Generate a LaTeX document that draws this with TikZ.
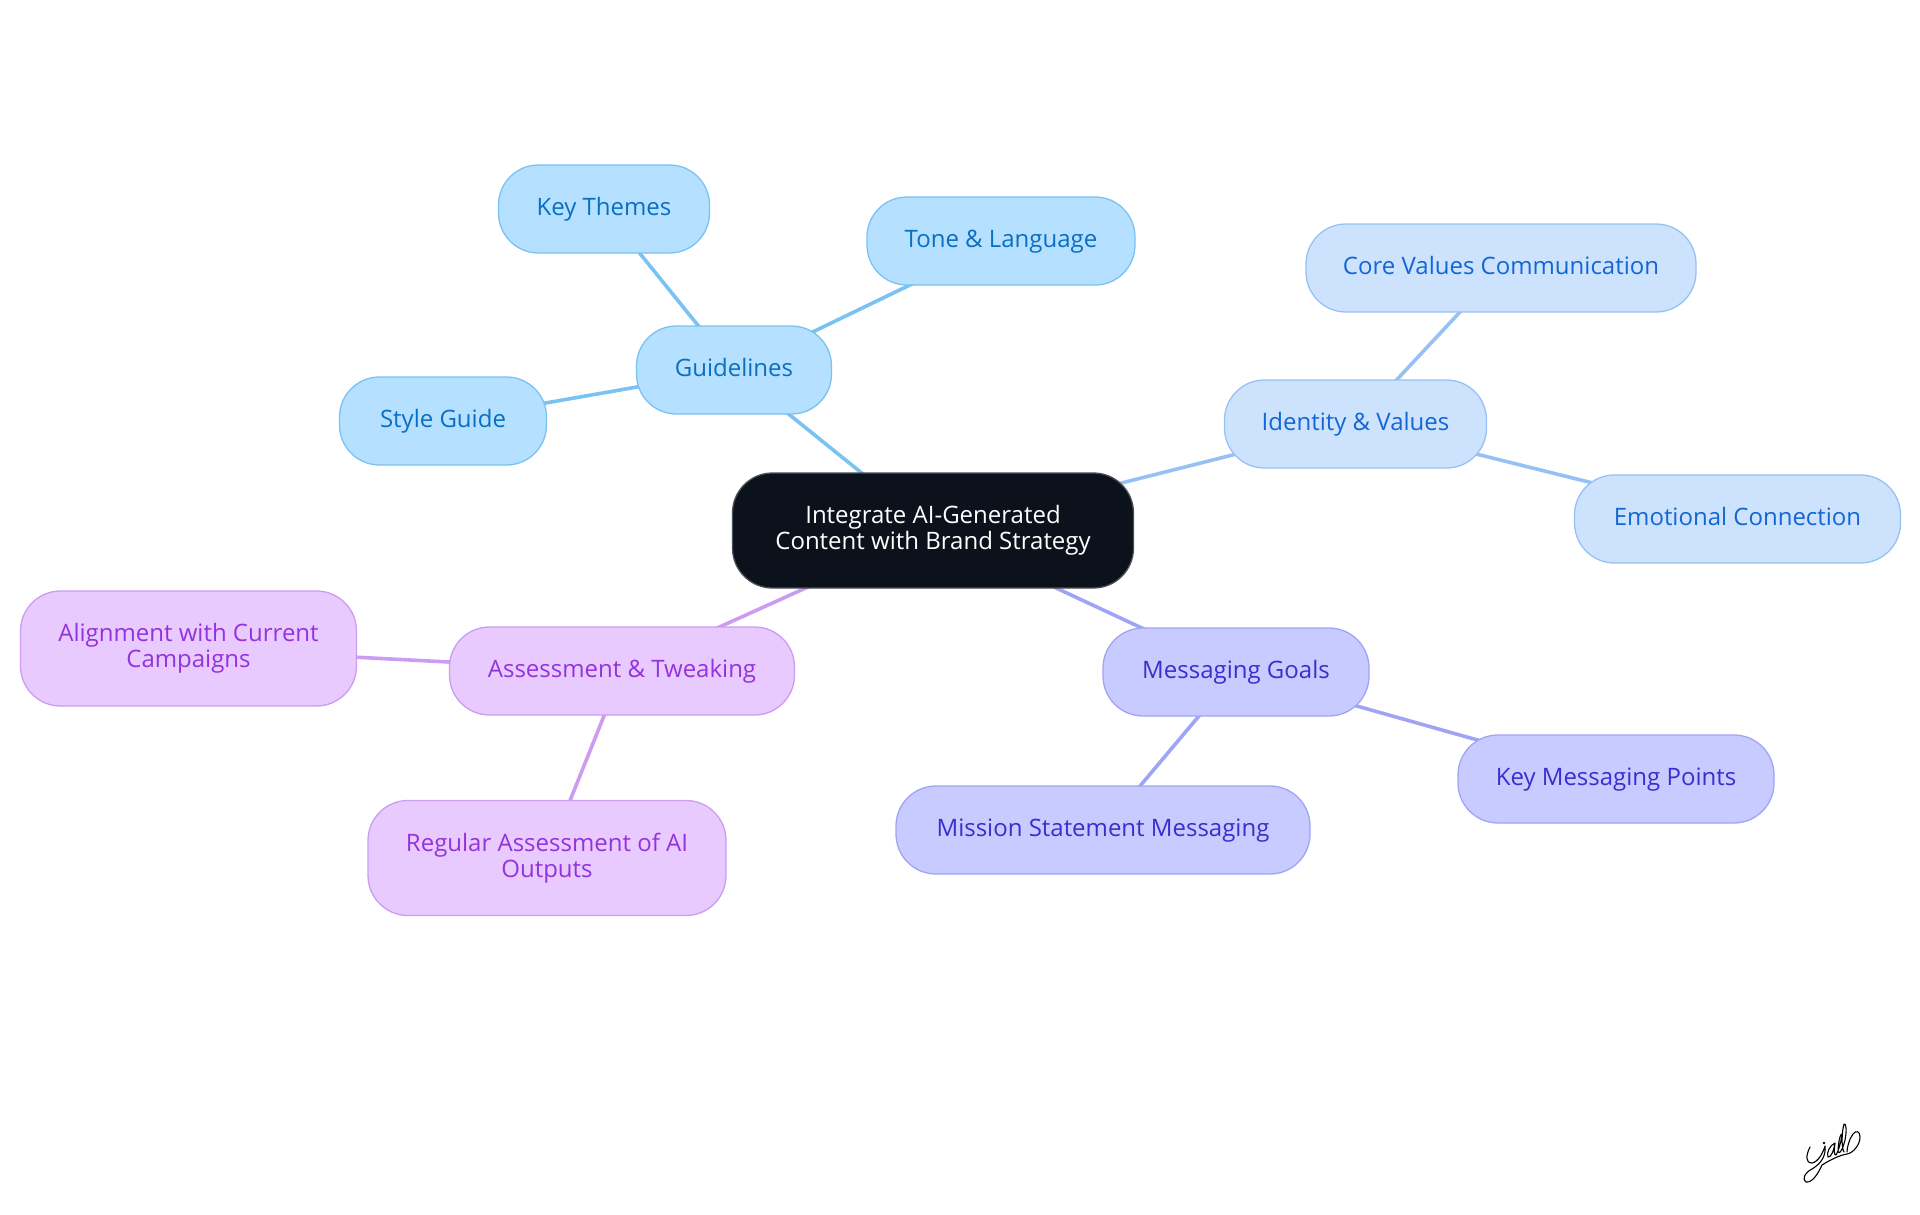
\documentclass[tikz,border=0pt]{standalone}
\usepackage{fontspec}
\usepackage{tikz}
\setmainfont{Open Sans}
\usetikzlibrary{positioning, backgrounds}
\definecolor{rootfill}{HTML}{0C121B}
\definecolor{rootline}{HTML}{4A4F57}
\definecolor{skyfill}{HTML}{B6E0FF}
\definecolor{skyline}{HTML}{7AC2F2}
\definecolor{skytext}{HTML}{0A6FC2}
\definecolor{palefill}{HTML}{CDE3FD}
\definecolor{paleline}{HTML}{97C1F5}
\definecolor{paletext}{HTML}{1366D6}
\definecolor{indigofill}{HTML}{C8CBFF}
\definecolor{indigoline}{HTML}{A0A4F5}
\definecolor{indigotext}{HTML}{3730CC}
\definecolor{violetfill}{HTML}{E8CAFF}
\definecolor{violetline}{HTML}{CB9CF2}
\definecolor{violettext}{HTML}{9333DD}
\tikzset{
  topic/.style={draw, rounded corners=40pt, line width=1.3pt, align=center,
    minimum height=88pt, inner sep=0pt, font=\fontsize{24}{26}\selectfont,
    execute at begin node={\rule{0pt}{18.8pt}},
    execute at end node={\rule[-5.2pt]{0pt}{5.2pt}}},
  sky/.style={topic, fill=skyfill, draw=skyline, text=skytext},
  pale/.style={topic, fill=palefill, draw=paleline, text=paletext},
  indigo/.style={topic, fill=indigofill, draw=indigoline, text=indigotext},
  violet/.style={topic, fill=violetfill, draw=violetline, text=violettext},
  link/.style={line width=3.6pt}
}
\begin{document}
\begin{tikzpicture}[x=1pt,y=-1pt]
  \useasboundingbox (0,0) rectangle (1920,1215);
  \node[topic, fill=rootfill, draw=rootline, text=white, minimum width=401pt, minimum height=115pt] (root) at (933,530.5) {Integrate AI-Generated\\Content with Brand Strategy};
  \node[sky, minimum width=195pt] (guide) at (734,370) {Guidelines};
  \node[sky, minimum width=211pt] (themes) at (604,209) {Key Themes};
  \node[sky, minimum width=268pt] (tone) at (1001,241) {Tone \& Language};
  \node[sky, minimum width=207pt] (style) at (443,421) {Style Guide};
  \node[pale, minimum width=262pt] (identity) at (1355.5,424) {Identity \& Values};
  \node[pale, minimum width=390pt] (core) at (1501,268) {Core Values Communication};
  \node[pale, minimum width=326pt] (emotion) at (1737.5,519) {Emotional Connection};
  \node[indigo, minimum width=266pt] (goals) at (1236,672) {Messaging Goals};
  \node[indigo, minimum width=316pt] (points) at (1616,779) {Key Messaging Points};
  \node[indigo, minimum width=414pt] (mission) at (1103,830) {Mission Statement Messaging};
  \node[violet, minimum width=345pt] (assess) at (622,671) {Assessment \& Tweaking};
  \node[violet, minimum width=336pt, minimum height=115pt] (align) at (188.5,648.5) {Alignment with Current\\Campaigns};
  \node[violet, minimum width=358pt, minimum height=115pt] (regular) at (547,858) {Regular Assessment of AI\\Outputs};
  \begin{scope}[on background layer]
    \draw[link, skyline] (root.center) -- (guide.center);
    \draw[link, skyline] (guide.center) -- (themes.center);
    \draw[link, skyline] (guide.center) -- (tone.center);
    \draw[link, skyline] (guide.center) -- (style.center);
    \draw[link, paleline] (root.center) -- (identity.center);
    \draw[link, paleline] (identity.center) -- (core.center);
    \draw[link, paleline] (identity.center) -- (emotion.center);
    \draw[link, indigoline] (root.center) -- (goals.center);
    \draw[link, indigoline] (goals.center) -- (points.center);
    \draw[link, indigoline] (goals.center) -- (mission.center);
    \draw[link, violetline] (root.center) -- (assess.center);
    \draw[link, violetline] (assess.center) -- (align.center);
    \draw[link, violetline] (assess.center) -- (regular.center);
  \end{scope}
  % signature
  \draw[line width=1.1pt, line cap=round, line join=round] (1810,1147) .. controls (1806,1155) and (1805,1163) .. (1812,1163)
    .. controls (1818,1162) and (1823,1153) .. (1825,1146) .. controls (1826,1155) and (1822,1163) .. (1812,1169)
    .. controls (1804,1173) and (1802,1180) .. (1806,1182) .. controls (1812,1183) and (1818,1174) .. (1822,1165)
    .. controls (1830,1160) and (1840,1155) .. (1847,1154) .. controls (1853,1153) and (1860,1145) .. (1860,1137)
    .. controls (1860,1131) and (1856,1130) .. (1853,1134) .. controls (1849,1139) and (1847,1148) .. (1847,1152);
  \draw[line width=1.1pt, line cap=round, line join=round] (1835,1143) .. controls (1830,1145) and (1826,1153) .. (1828,1157)
    .. controls (1831,1158) and (1834,1150) .. (1835,1143) .. controls (1834,1150) and (1834,1156) .. (1836,1155)
    .. controls (1839,1150) and (1842,1138) .. (1842,1134) .. controls (1840,1133) and (1838,1145) .. (1838,1152)
    .. controls (1840,1155) and (1843,1148) .. (1845,1140) .. controls (1847,1130) and (1846,1123) .. (1844,1124)
    .. controls (1842,1130) and (1841,1147) .. (1844,1152);
  \fill (1824,1143) circle (1.3pt);
\end{tikzpicture}
\end{document}
